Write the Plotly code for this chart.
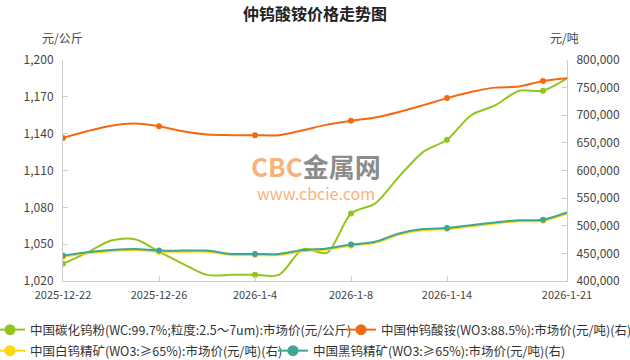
import plotly.graph_objects as go

# ---------------- data ----------------
dates = ["2025-12-22", "2025-12-23", "2025-12-24", "2025-12-25", "2025-12-26",
         "2025-12-29", "2025-12-30", "2025-12-31", "2026-1-4", "2026-1-5",
         "2026-1-6", "2026-1-7", "2026-1-8", "2026-1-9", "2026-1-12",
         "2026-1-13", "2026-1-14", "2026-1-15", "2026-1-16", "2026-1-19",
         "2026-1-20", "2026-1-21"]

# 中国碳化钨粉 (元/公斤, left axis)
wc_powder = [1034, 1043, 1053, 1054, 1044, 1034, 1025, 1025, 1025, 1025, 1046,
             1043, 1075, 1083, 1105, 1125, 1135, 1155, 1163, 1175, 1175, 1185]
# 中国仲钨酸铵 (元/吨, right axis)
apt = [659000, 671000, 681000, 685000, 680000, 671000, 665000, 664000, 664000,
       664000, 673000, 683000, 690000, 696000, 706000, 718000, 731000, 742000,
       750000, 752000, 762000, 767000]
# 中国白钨精矿 (元/吨, right axis)
scheelite = [444000, 450000, 454000, 456000, 453000, 453000, 453000, 447000,
             447000, 447000, 454000, 457000, 464000, 469000, 484000, 492000,
             494000, 499000, 504000, 508000, 509000, 522000]
# 中国黑钨精矿 (元/吨, right axis)
wolframite = [446000, 452000, 456000, 458000, 455000, 455000, 455000, 449000,
              449000, 449000, 456000, 459000, 466000, 471000, 486000, 494000,
              496000, 501000, 506000, 510000, 511000, 524000]

series_names = [
    "中国碳化钨粉(WC:99.7%;粒度:2.5～7um):市场价(元/公斤)",
    "中国仲钨酸铵(WO3:88.5%):市场价(元/吨)(右)",
    "中国白钨精矿(WO3:≥65%):市场价(元/吨)(右)",
    "中国黑钨精矿(WO3:≥65%):市场价(元/吨)(右)",
]
tick_dates = ["2025-12-22", "2025-12-26", "2026-1-4", "2026-1-8", "2026-1-14", "2026-1-21"]
left_ticks = [1020, 1050, 1080, 1110, 1140, 1170, 1200]
right_ticks = [400000, 450000, 500000, 550000, 600000, 650000, 700000, 750000, 800000]

# ---------------- style ----------------
FONT = "Noto Sans CJK SC"
colors = ["#94c51f", "#f26a13", "#ffd60a", "#3ea695"]
marker_idx = list(range(0, len(dates), 4))  # symbols shown at every 4th category

series = [(wc_powder, "y"), (apt, "y2"), (scheelite, "y2"), (wolframite, "y2")]

fig = go.Figure()
for k, (vals, ax) in enumerate(series):
    fig.add_trace(go.Scatter(
        x=dates, y=vals, yaxis=ax, mode="lines",
        line=dict(color=colors[k], width=2, shape="spline", smoothing=0.8),
        showlegend=False, hoverinfo="skip"))
    fig.add_trace(go.Scatter(
        x=[dates[i] for i in marker_idx], y=[vals[i] for i in marker_idx],
        yaxis=ax, mode="markers",
        marker=dict(color=colors[k], size=6),
        showlegend=False))
    # legend entry
    fig.add_trace(go.Scatter(
        x=[None], y=[None], yaxis=ax, mode="lines+markers", name=series_names[k],
        line=dict(color=colors[k], width=2),
        marker=dict(color=colors[k], size=11),
        legend="legend" if k == 0 else f"legend{k+1}"))

PL, PR, PT, PB = 63, 567, 60, 281
PW, PH = PR - PL, PB - PT


def px_x(p):
    return (p - PL) / PW


def px_y(p):
    return (PB - p) / PH


leg_pos = [(-10, 330), (341, 330), (-10, 351), (273, 351)]
leg_common = dict(bgcolor="rgba(0,0,0,0)", font=dict(family=FONT, size=12.5, color="#333"),
                  xanchor="left", yanchor="middle", orientation="h", itemwidth=30)
legends = {}
for k, (lx, ly) in enumerate(leg_pos):
    key = "legend" if k == 0 else f"legend{k+1}"
    legends[key] = dict(x=px_x(lx), y=px_y(ly), **leg_common)

fig.update_layout(
    width=630, height=360,
    margin=dict(l=PL, r=630 - PR, t=PT, b=360 - PB, autoexpand=False),
    paper_bgcolor="white", plot_bgcolor="white",
    font=dict(family=FONT, size=12, color="#444"),
    title=dict(text="<b>仲钨酸铵价格走势图</b>", x=0.5, xanchor="center", y=1 - 14 / 360,
               yanchor="middle", font=dict(family=FONT, size=16, color="#222")),
    xaxis=dict(type="category", range=[0, len(dates) - 1], tickvals=tick_dates,
               ticktext=tick_dates, showgrid=False, showline=True, linecolor="#cccccc",
               linewidth=1, ticks="inside", ticklen=5, tickcolor="#cccccc",
               ticklabelstandoff=4,
               tickfont=dict(family=FONT, size=11, color="#444"), zeroline=False),
    yaxis=dict(range=[1020, 1200], tickvals=left_ticks, tickformat=",d", showgrid=False,
               showline=True, linecolor="#cccccc", ticks="inside", ticklen=5,
               tickcolor="#cccccc", zeroline=False, ticklabelstandoff=6,
               tickfont=dict(family=FONT, size=12, color="#444")),
    yaxis2=dict(range=[400000, 800000], tickvals=right_ticks, tickformat=",d",
                overlaying="y", side="right", showgrid=False, showline=True,
                linecolor="#cccccc", ticks="inside", ticklen=5, tickcolor="#cccccc",
                zeroline=False, ticklabelstandoff=6,
                tickfont=dict(family=FONT, size=12, color="#444")),
    annotations=[
        dict(text="元/公斤", x=px_x(62), y=px_y(38), xref="paper", yref="paper",
             showarrow=False, xanchor="center", yanchor="middle",
             font=dict(family=FONT, size=12, color="#444")),
        dict(text="元/吨", x=px_x(564), y=px_y(38), xref="paper", yref="paper",
             showarrow=False, xanchor="center", yanchor="middle",
             font=dict(family=FONT, size=12, color="#444")),
        dict(text="<b><span style='color:#f7b27c'>CBC</span><span style='color:#8c8c8c'>金属网</span></b>",
             x=px_x(316), y=px_y(165), xref="paper", yref="paper", showarrow=False,
             xanchor="center", yanchor="middle", borderpad=0, font=dict(family=FONT, size=26)),
        dict(text="www.cbcie.com", x=px_x(316), y=px_y(193), xref="paper", yref="paper",
             showarrow=False, xanchor="center", yanchor="middle", borderpad=0,
             font=dict(family=FONT, size=16, color="#f7b27c")),
    ],
    **legends,
)

fig.write_html("out.html", config={"displayModeBar": False},
               post_script="document.body.style.margin='0';document.body.style.overflow='hidden';")
